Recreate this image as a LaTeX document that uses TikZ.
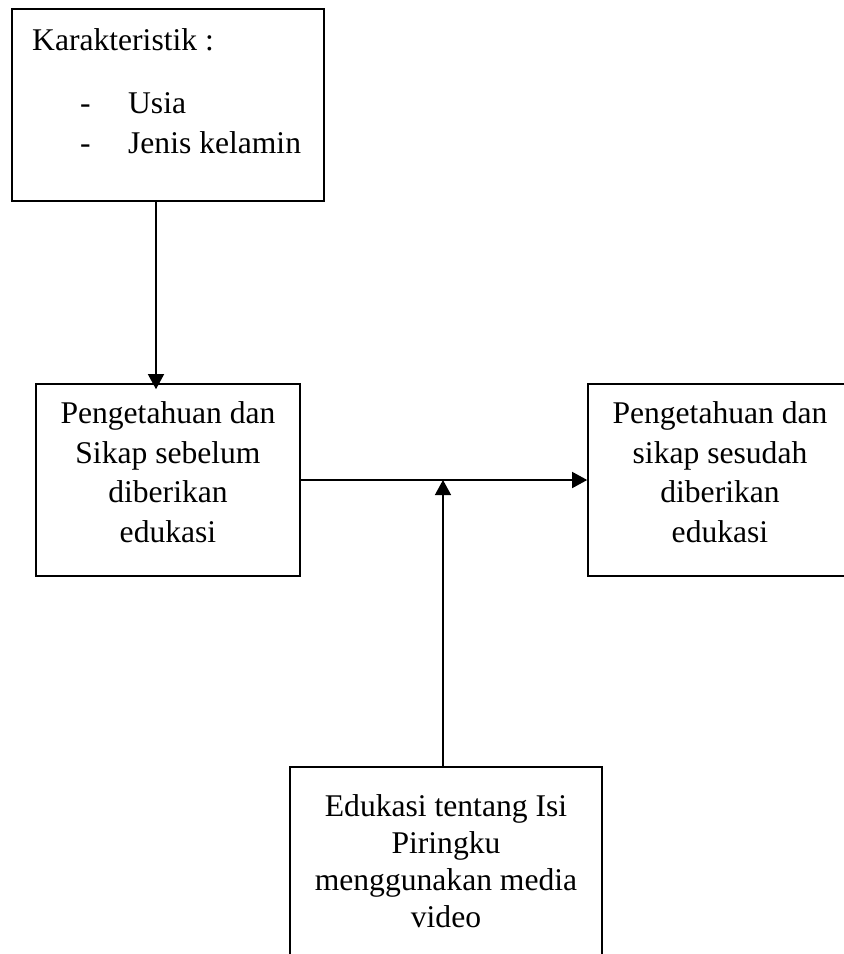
\documentclass[tikz,border=0pt]{standalone}
\usepackage{fontspec}
\setmainfont{Liberation Serif}
\usetikzlibrary{arrows.meta}
\begin{document}
\begin{tikzpicture}[x=1pt,y=-1pt,
  box/.style={draw=black, line width=1.6pt, rectangle, inner sep=0pt, minimum height=192pt, align=center,
    font=\fontsize{31.6}{39.5}\selectfont},
  arr/.style={draw=black, line width=1.4pt, -{Triangle[length=15pt,width=16pt]}}]
\useasboundingbox (0,0) rectangle (844,954);
\clip (0,0) rectangle (844,954);
\node[box, minimum width=312pt] (kar) at (168,105) {};
\node[anchor=base west, inner sep=0pt, align=left, font=\fontsize{31.6}{40}\selectfont] (kartext) at (32,153)
  {Karakteristik :\\[23pt]
   \hspace*{48pt}\makebox[48pt][l]{-}Usia\\
   \hspace*{48pt}\makebox[48pt][l]{-}Jenis kelamin};
\node[box, minimum width=264pt] (pre) at (168,480)
  {Pengetahuan dan\\Sikap sebelum\\diberikan\\edukasi\rule[-16pt]{0pt}{16pt}};
\node[box, minimum width=264pt] (post) at (720,480)
  {Pengetahuan dan\\sikap sesudah\\diberikan\\edukasi\rule[-16pt]{0pt}{16pt}};
\node[box, minimum width=312pt, font=\fontsize{31.6}{37}\selectfont] (edu) at (446,863)
  {Edukasi tentang Isi\\Piringku\\menggunakan media\\video\rule[-4pt]{0pt}{4pt}};
\draw[arr] ([xshift=-12pt]kar.south) -- ([xshift=-12pt,yshift=-6pt]pre.north);
\draw[arr] (pre.east) -- (post.west);
\draw[arr] ([xshift=-3pt]edu.north) -- ([xshift=-3pt]edu.north |- pre.east);
\end{tikzpicture}
\end{document}
